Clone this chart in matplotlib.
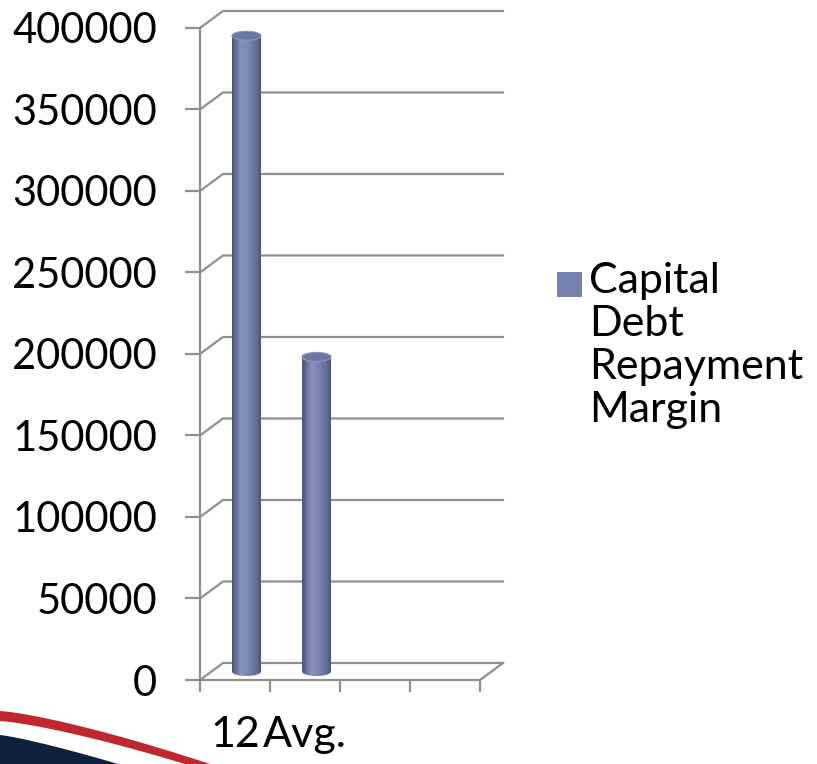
import matplotlib
matplotlib.use("Agg")
import matplotlib.pyplot as plt
import numpy as np
from matplotlib.colors import LinearSegmentedColormap
from matplotlib.patches import Polygon, Ellipse, Rectangle

plt.rcParams['font.family'] = ['Lato', 'DejaVu Sans']

# data
labels = ["12", "Avg."]
values = [390000, 193000]
n_slots = 4
yticks = list(range(0, 400001, 50000))
series_name = "Capital\nDebt\nRepayment\nMargin"

W, H = 817, 764
fig = plt.figure(figsize=(W / 100, H / 100), dpi=100)

# decorative swoosh in the lower-left corner
deco = fig.add_axes([0, 0, 1, 1], zorder=0)
deco.set_xlim(0, W)
deco.set_ylim(H, 0)
deco.axis("off")
t = np.linspace(0, 1, 50)
red_top = np.column_stack([t * 210, 711 + 53 * t ** 1.3])
red_bot = np.column_stack([t * 185, 721 + 43 * t ** 1.3])[::-1]
deco.add_patch(Polygon(np.vstack([red_top, red_bot]), closed=True,
                       facecolor="#c0272d", edgecolor="none"))
navy_top = np.column_stack([t * 118, 735 + 29 * t ** 1.2])
deco.add_patch(Polygon(np.vstack([navy_top, [[0, H]]]), closed=True,
                       facecolor="#0f1f3d", edgecolor="none"))

# plot area (front plane 200..480 px wide, 0 at y=680 px)
ymax = 412000
ax = fig.add_axes([200 / W, (H - 680) / H, 308 / W, 671.6 / H], zorder=1)
ax.set_xlim(0, 4.4)
ax.set_ylim(0, ymax)
ax.patch.set_alpha(0)

grey = "#8f8f8f"
for s in ["top", "right"]:
    ax.spines[s].set_visible(False)
ax.spines["left"].set_bounds(0, 400000)
ax.spines["bottom"].set_bounds(0, n_slots)
for s in ["left", "bottom"]:
    ax.spines[s].set_color(grey)
    ax.spines[s].set_linewidth(1.6)

ax.set_yticks(yticks)
ax.set_yticklabels([str(v) for v in yticks])
ax.tick_params(axis="y", length=10.8, width=1.6, color=grey, pad=20,
               labelsize=30)
ax.set_xticks(range(n_slots + 1))
ax.set_xticklabels([""] * (n_slots + 1))
ax.tick_params(axis="x", which="major", length=8.6, width=1.6, color=grey)
ax.set_xticks([i + 0.5 for i in range(len(labels))], minor=True)
ax.set_xticklabels(labels, minor=True)
ax.tick_params(axis="x", which="minor", length=0, pad=26, labelsize=31)

# depth offset of the back wall
px_per_unit = 671.6 / ymax
dx = 23 / 70
dy = 17 / px_per_unit

for v in yticks:
    ax.plot([0, dx, n_slots + dx], [v, v + dy, v + dy], color=grey,
            lw=1.6, clip_on=False, zorder=1)
ax.plot([n_slots, n_slots + dx], [0, dy], color=grey, lw=1.6,
        clip_on=False, zorder=1)

# cylinders
cmap = LinearSegmentedColormap.from_list(
    "cyl", [(0, "#4a5478"), (0.3, "#8590bb"), (0.55, "#7d88b3"),
            (0.85, "#636e97"), (1, "#4a5475"), ])
grad = np.linspace(0, 1, 256).reshape(1, -1)
w = 29 / 70
eh = 9 / px_per_unit
base = dy / 2
for i, v in enumerate(values):
    c = i + 0.5 + dx / 2
    top = v + dy / 2
    th = np.linspace(0, -np.pi, 40)
    arc = np.column_stack([c + w / 2 * np.cos(th), base + eh / 2 * np.sin(th)])
    outline = np.vstack([[[c - w / 2, top], [c + w / 2, top]], arc])
    clip = Polygon(outline, closed=True, facecolor="none", edgecolor="none",
                   transform=ax.transData)
    ax.add_patch(clip)
    im = ax.imshow(grad, cmap=cmap, aspect="auto", zorder=3,
                   extent=[c - w / 2, c + w / 2, base - eh, top])
    im.set_clip_path(clip)
    ax.add_patch(Ellipse((c, top), w, eh, facecolor="#6c77a1",
                         edgecolor="#8b95bd", lw=0.8, zorder=4))

ax.set_xlim(0, 4.4)
ax.set_ylim(0, ymax)

# legend
fig.patches.append(Rectangle((557 / W, 1 - 297 / H), 25 / W, 25 / H,
                             facecolor="#7680ac", edgecolor="none",
                             transform=fig.transFigure, figure=fig))
fig.text(589 / W, 1 - 262 / H, series_name, fontsize=31, va="top",
         ha="left", linespacing=1.16)

fig.savefig("out.png", dpi=100)
